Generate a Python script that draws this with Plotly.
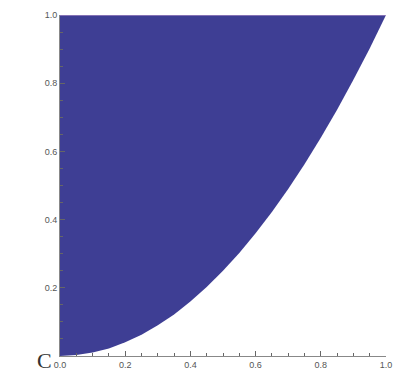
import plotly.graph_objects as go

# Boundary of the shaded region
x_vals = [0.0, 0.05, 0.1, 0.15, 0.2, 0.25, 0.3, 0.35, 0.4, 0.45, 0.5,
          0.55, 0.6, 0.65, 0.7, 0.75, 0.8, 0.85, 0.9, 0.95, 1.0]
y_lower = [0.0, 0.003, 0.01, 0.022, 0.04, 0.062, 0.09, 0.122, 0.16, 0.202, 0.25,
           0.302, 0.36, 0.422, 0.49, 0.562, 0.64, 0.722, 0.81, 0.902, 1.0]
y_upper = 1.0

x_ticks = [0.0, 0.2, 0.4, 0.6, 0.8, 1.0]
x_tick_labels = ["0.0", "0.2", "0.4", "0.6", "0.8", "1.0"]
y_ticks = [0.2, 0.4, 0.6, 0.8, 1.0]
y_tick_labels = ["0.2", "0.4", "0.6", "0.8", "1.0"]
panel_label = "C"

fill_color = "#3E3E94"

poly_x = x_vals + [x_vals[0]]
poly_y = y_lower + [y_upper]

fig = go.Figure()
fig.add_trace(go.Scatter(
    x=poly_x, y=poly_y, mode="lines", fill="toself",
    fillcolor=fill_color, line=dict(width=0, color=fill_color),
    hoverinfo="skip", showlegend=False))
fig.add_trace(go.Scatter(
    x=[x_vals[0], x_vals[-1]], y=[y_upper, y_upper], mode="lines",
    line=dict(width=1, color="#C9A6D6"), hoverinfo="skip", showlegend=False))

tickfont = dict(family="Liberation Sans", size=9, color="#555555")
fig.update_xaxes(
    range=[0, 1], tickvals=x_ticks, ticktext=x_tick_labels,
    ticks="inside", ticklen=5, tickcolor="#666666", tickwidth=1,
    minor=dict(dtick=0.05, ticks="inside", ticklen=3, tickcolor="#666666", showgrid=False),
    showline=True, linecolor="#888888", linewidth=1, automargin=False,
    showgrid=False, zeroline=False, tickfont=tickfont, fixedrange=True)
fig.update_yaxes(
    range=[0, 1], tickvals=y_ticks, ticktext=y_tick_labels,
    ticks="inside", ticklen=5, tickcolor="#666666", tickwidth=1,
    minor=dict(dtick=0.05, ticks="inside", ticklen=3, tickcolor="#666666", showgrid=False),
    showline=True, linecolor="#888888", linewidth=1, automargin=False,
    showgrid=False, zeroline=False, tickfont=tickfont, fixedrange=True)

fig.add_annotation(
    text=panel_label, xref="paper", yref="paper", x=-0.048, y=-0.012,
    xanchor="center", yanchor="middle", showarrow=False,
    font=dict(family="Liberation Serif", size=22, color="#333333"))

fig.update_layout(
    width=393, height=373,
    margin=dict(l=60, r=7, t=15, b=17),
    plot_bgcolor="white", paper_bgcolor="white")

fig.write_html("out.html")
